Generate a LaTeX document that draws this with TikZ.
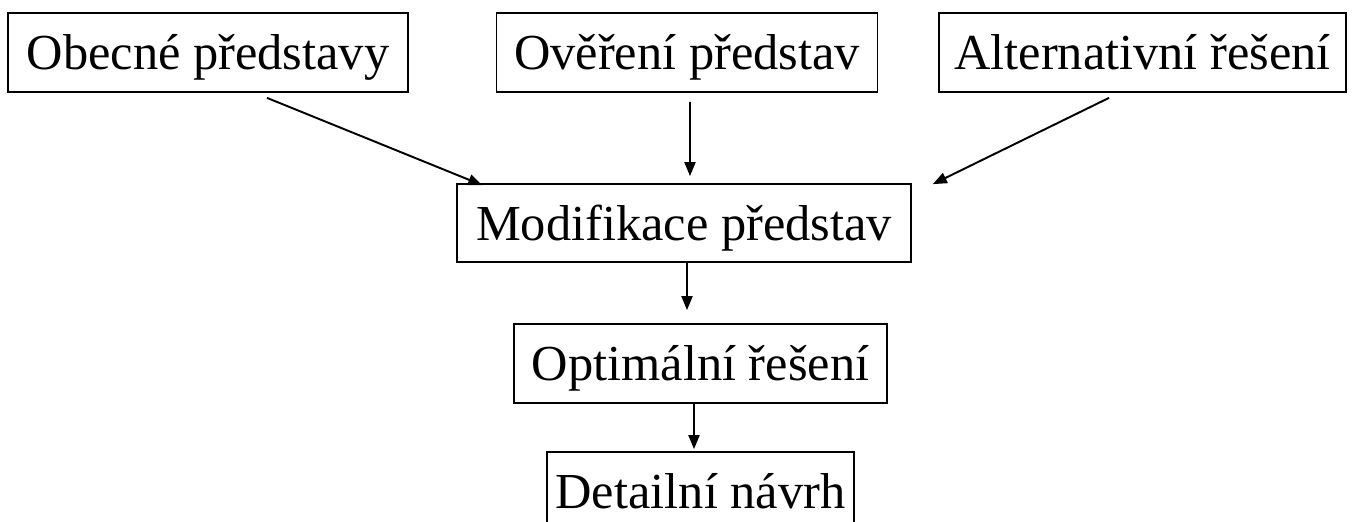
\documentclass[tikz,border=0pt]{standalone}
\usepackage{fontspec}
\setmainfont{Liberation Serif}
\usetikzlibrary{arrows.meta}
\tikzset{
  stage/.style={draw, line width=1pt, inner sep=0pt, minimum height=1.58cm,
    text height=1cm, text depth=0.32cm,
    font=\fontsize{28.7}{34}\selectfont},
  flow/.style={line width=1.1pt, -{Triangle[length=0.28cm,width=0.22cm]}}
}
\begin{document}
\begin{tikzpicture}[x=0.02cm,y=-0.02cm]
\useasboundingbox (0,0) rectangle (1356,521);
% Draw boxes
\node[stage, minimum width=8cm] (obecne) at (208,52.5) {Obecné představy};
\node[stage, minimum width=7.62cm] (overeni) at (687,52.5) {Ověření představ};
\node[stage, minimum width=8.14cm] (alternativni) at (1142.5,52.5) {Alternativní řešení};
\node[stage, minimum width=9.08cm, minimum height=1.56cm] (modifikace) at (684,223) {Modifikace představ};
\node[stage, minimum width=7.46cm] (optimalni) at (700.5,363.5) {Optimální řešení};
\node[stage, minimum width=6.14cm] (detailni) at (700.5,491.5) {Detailní návrh};
% Draw arrows
\draw[flow] ([shift={(1.18cm,-0.1cm)}]obecne.south) -- ([shift={(0.52cm,-0.04cm)}]modifikace.north west);
\draw[flow] ([shift={(0.06cm,-0.18cm)}]overeni.south) -- ([shift={(0.12cm,0.14cm)}]modifikace.north);
\draw[flow] ([shift={(-0.67cm,-0.1cm)}]alternativni.south) -- ([shift={(0.42cm,-0.02cm)}]modifikace.north east);
\draw[flow] ([shift={(0.06cm,0cm)}]modifikace.south) -- ([shift={(-0.27cm,0.26cm)}]optimalni.north);
\draw[flow] ([shift={(-0.13cm,0cm)}]optimalni.south) -- ([shift={(-0.13cm,0.04cm)}]detailni.north);
\end{tikzpicture}
\end{document}
